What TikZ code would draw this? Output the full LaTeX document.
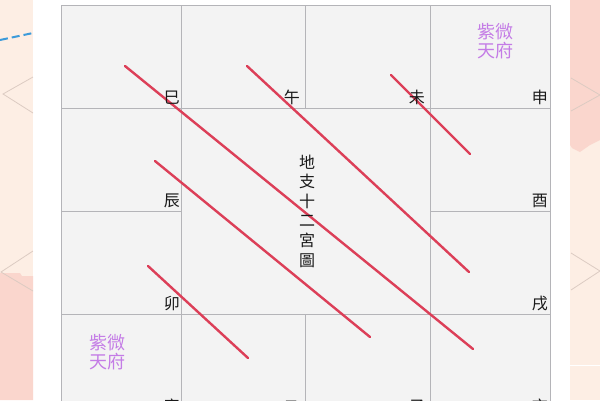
\documentclass[tikz,border=0pt]{standalone}
\usepackage{fontspec}
\newfontfamily\cjk{Noto Sans CJK TC}
\definecolor{peach}{HTML}{FDEEE4}
\definecolor{pinkbg}{HTML}{FAD6CD}
\definecolor{cellfill}{HTML}{F3F3F3}
\definecolor{gridc}{HTML}{B4B4B8}
\definecolor{redl}{HTML}{DC3F58}
\definecolor{purp}{HTML}{C47CE6}
\definecolor{decol}{HTML}{DCCBC2}
\definecolor{bluel}{HTML}{3C9BDA}
\tikzset{
  gridline/.style={draw=gridc, line width=1pt},
  redline/.style={draw=redl, line width=2.4pt, line cap=round},
  branch/.style={font=\cjk\fontsize{16}{16}\selectfont, inner sep=0pt, anchor=south east, text=black!90},
  star/.style={font=\cjk\fontsize{18}{19.5}\selectfont, inner sep=0pt, align=center, text=purp},
  title/.style={font=\cjk\fontsize{16}{19.6}\selectfont, inner sep=0pt, align=center, text=black!90},
  deco/.style={draw=decol, line width=0.8pt}
}
\begin{document}
\begin{tikzpicture}[x=1pt,y=-1pt]
\useasboundingbox (0,0) rectangle (600,400);
\clip (0,0) rectangle (600,400);
% background
\fill[white] (0,0) rectangle (600,400);
\fill[peach] (0,0) rectangle (33,400);
\fill[pinkbg] (0,273) -- (20,273) -- (22,276) -- (33,276) -- (33,400) -- (0,400) -- cycle;
\fill[peach] (570,0) rectangle (600,400);
\fill[pinkbg] (570,0) -- (600,0) -- (600,140) -- (590,145) -- (580,152) -- (572,148) -- (570,145) -- cycle;
\draw[white, line width=1pt] (570,365) -- (600,365);
\draw[deco] (33,77) -- (3,94) -- (33,113);
\draw[deco] (33,251) -- (1,272) -- (33,291);
\draw[deco] (571,78) -- (600,95) -- (571,111);
\draw[deco] (571,253) -- (600,271) -- (571,290);
\draw[bluel, line width=2pt, dash pattern=on 8pt off 4pt] (0,40) -- (33,33);
% chart
\fill[cellfill] (61,5) rectangle (550,417);
\draw[gridline] (61,5) rectangle (550,417);
\draw[gridline] (61,108) -- (550,108);
\draw[gridline] (61,314) -- (550,314);
\draw[gridline] (61,211) -- (181,211);
\draw[gridline] (430,211) -- (550,211);
\draw[gridline] (181,5) -- (181,417);
\draw[gridline] (430,5) -- (430,417);
\draw[gridline] (305,5) -- (305,108);
\draw[gridline] (305,314) -- (305,417);
% red lines
\draw[redline] (125,66) -- (473,349);
\draw[redline] (247,66) -- (469,272);
\draw[redline] (391,75) -- (470,154);
\draw[redline] (155,161) -- (370,337);
\draw[redline] (148,266) -- (248,358);
% branch labels
\node[branch] (si) at (180,105) {巳};
\node[branch] (wu) at (300,105) {午};
\node[branch] (wei) at (425,105) {未};
\node[branch] (shen) at (548,105) {申};
\node[branch] (chen) at (180,208) {辰};
\node[branch] (you) at (548,208) {酉};
\node[branch] (mao) at (180,311) {卯};
\node[branch] (xu) at (548,311) {戌};
\node[branch] (yin) at (180,414) {寅};
\node[branch] (chou) at (300,414) {丑};
\node[branch] (zi) at (425,414) {子};
\node[branch] (hai) at (548,414) {亥};
% center title
\node[title] (ttl) at (307,211) {地\\支\\十\\二\\宮\\圖};
% stars
\node[star] (s1) at (495.5,41) {紫微\\天府};
\node[star] (s2) at (107,352) {紫微\\天府};
\end{tikzpicture}
\end{document}
